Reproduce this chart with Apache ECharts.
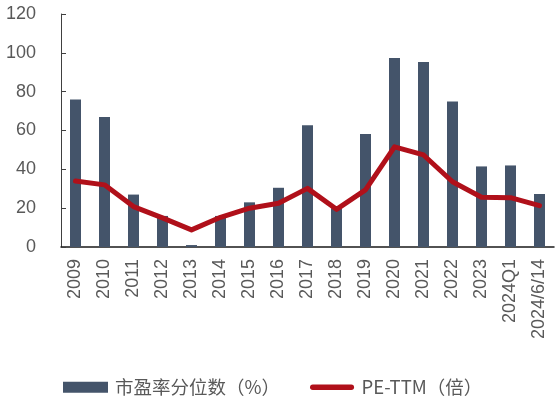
<!DOCTYPE html>
<html>
<head>
<meta charset="utf-8">
<script src="https://cdn.jsdelivr.net/npm/echarts@6/dist/echarts.min.js"></script>
<style>
  html, body { margin: 0; padding: 0; background: #fff; }
  #chart { width: 558px; height: 397px; }
</style>
</head>
<body>
<div id="chart"></div>
<script>
// 市盈率分位数与PE-TTM
const categories = ["2009", "2010", "2011", "2012", "2013", "2014", "2015", "2016", "2017",
  "2018", "2019", "2020", "2021", "2022", "2023", "2024Q1", "2024/6/14"];
const peQuantile = [76, 67, 27, 16, 1, 16, 23, 30.5, 62.7, 20, 58.2, 97.3, 95.3, 75, 41.5, 42, 27.3];
const peTTM = [34, 32, 20.8, 15, 8.8, 15.3, 20, 22.5, 30.2, 19.4, 29.4, 51.6, 47.4, 33.6, 25.6, 25.4, 21.3];
const yTicks = [0, 20, 40, 60, 80, 100, 120];

const textColor = "#595959";
const fontFamily = "Liberation Sans, Arial, sans-serif";

const chart = echarts.init(document.getElementById("chart"));
chart.setOption({
  animation: false,
  textStyle: { fontFamily },
  grid: { left: 61, right: 4, top: 14, bottom: 150, containLabel: false },
  legend: {
    left: 58,
    top: 373,
    itemGap: 30,
    itemWidth: 45,
    itemHeight: 11,
    textStyle: { color: textColor, fontSize: 18.5, fontFamily: "Noto Sans CJK SC, sans-serif", padding: [0, 0, 0, 2] },
    data: [
      { name: "市盈率分位数（%）", icon: "rect" },
      { name: "PE-TTM（倍）", icon: "path://M3,3 L45,3 A3,3 0 0 1 45,9 L3,9 A3,3 0 0 1 3,3 Z M0,0 L0,0 M48,12 L48,12" }
    ]
  },
  xAxis: {
    type: "category",
    data: categories,
    axisLine: { lineStyle: { color: "#1a1a1a", width: 1.5 } },
    axisTick: { show: false },
    axisLabel: { rotate: 90, interval: 0, color: textColor, fontSize: 18, margin: 12 }
  },
  yAxis: {
    type: "value",
    min: yTicks[0],
    max: yTicks[yTicks.length - 1],
    interval: 20,
    axisLine: { show: true, lineStyle: { color: "#404040", width: 1 } },
    axisTick: { show: true, inside: true, length: 5, lineStyle: { color: "#404040" } },
    splitLine: { show: false },
    axisLabel: { color: textColor, fontSize: 18, margin: 25 }
  },
  series: [
    {
      name: "市盈率分位数（%）",
      type: "bar",
      data: peQuantile,
      barWidth: 11,
      itemStyle: { color: "#44546A" }
    },
    {
      name: "PE-TTM（倍）",
      type: "line",
      data: peTTM,
      symbol: "none",
      lineStyle: { color: "#B0101A", width: 5, cap: "round", join: "round" },
      itemStyle: { color: "#B0101A" }
    }
  ]
});
</script>
</body>
</html>
